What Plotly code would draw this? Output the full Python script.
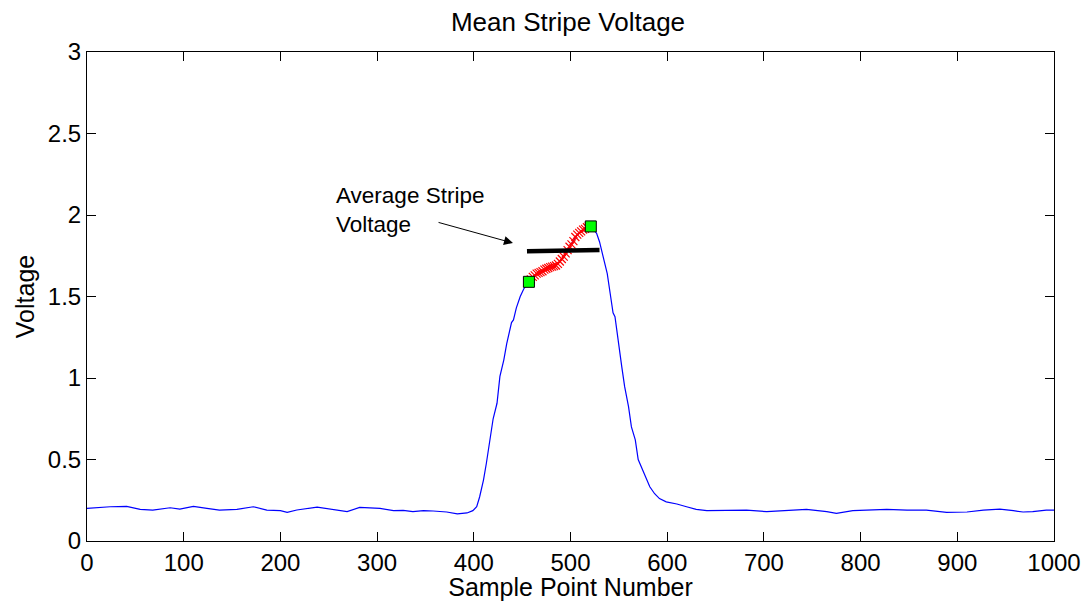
import plotly.graph_objects as go

# ---- data ----
sample_number = [0, 24, 41, 55, 68, 86, 96, 110, 124, 137, 155, 172, 186, 200, 207, 217,
                 238, 254, 269, 282, 303, 317, 327, 337, 348, 358, 372, 383, 393, 399,
                 403, 406, 410, 413, 417, 420, 424, 427, 431, 434, 439, 441, 444, 448, 452,
                 457, 459, 461, 463, 465, 467, 469, 471, 473, 475, 477, 479, 481, 483, 485,
                 487, 489, 491, 493, 495, 497, 499, 501, 503, 505, 507, 509, 511, 513, 515,
                 517, 519, 521, 524, 527, 530, 534, 538, 541, 544, 546, 549, 553, 556, 560,
                 563, 567, 570, 575, 579, 582, 587, 592, 599, 610, 620, 630, 641, 661, 682,
                 703, 723, 744, 765, 775, 792, 806, 827, 848, 868, 889, 910, 927, 944, 958,
                 968, 978, 992, 1000]
voltage = [0.200, 0.210, 0.212, 0.194, 0.190, 0.204, 0.196, 0.212, 0.200, 0.190, 0.194,
           0.210, 0.190, 0.186, 0.176, 0.190, 0.208, 0.194, 0.180, 0.206, 0.200, 0.186,
           0.188, 0.180, 0.186, 0.184, 0.178, 0.166, 0.172, 0.186, 0.210, 0.270, 0.374,
           0.477, 0.620, 0.750, 0.845, 1.010, 1.110, 1.210, 1.340, 1.356, 1.430, 1.500,
           1.550, 1.590, 1.605, 1.620, 1.630, 1.640, 1.645, 1.650, 1.655, 1.665, 1.670,
           1.675, 1.680, 1.683, 1.686, 1.690, 1.700, 1.715, 1.730, 1.745, 1.765, 1.785,
           1.805, 1.820, 1.840, 1.865, 1.880, 1.890, 1.900, 1.910, 1.915, 1.925, 1.930,
           1.930, 1.910, 1.888, 1.836, 1.744, 1.640, 1.520, 1.400, 1.376, 1.230, 1.070,
           0.947, 0.824, 0.700, 0.620, 0.500, 0.430, 0.374, 0.333, 0.290, 0.260, 0.240,
           0.227, 0.210, 0.194, 0.186, 0.186, 0.190, 0.180, 0.186, 0.194, 0.180, 0.170,
           0.186, 0.190, 0.194, 0.190, 0.190, 0.176, 0.178, 0.190, 0.196, 0.186, 0.178,
           0.180, 0.190, 0.190]

stripe_start, stripe_end = 457, 523
avg_x = [455, 530]
avg_y = [1.778, 1.785]
edge_x = [457, 521]
edge_y = [1.590, 1.930]

x_ticks = [0, 100, 200, 300, 400, 500, 600, 700, 800, 900, 1000]
y_ticks = [0, 0.5, 1, 1.5, 2, 2.5, 3]
y_tick_text = ["0", "0.5", "1", "1.5", "2", "2.5", "3"]

FONT = "Liberation Sans, Arial, sans-serif"

stripe_x = [s for s in sample_number if stripe_start <= s <= stripe_end]
stripe_y = [v for s, v in zip(sample_number, voltage) if stripe_start <= s <= stripe_end]

fig = go.Figure()
fig.add_trace(go.Scatter(x=sample_number, y=voltage, mode="lines",
                         line=dict(color="#0000ff", width=1.2), showlegend=False))
fig.add_trace(go.Scatter(x=stripe_x, y=stripe_y, mode="markers",
                         marker=dict(symbol="x-thin", size=8, color="red",
                                     line=dict(color="red", width=1.2)),
                         showlegend=False))
fig.add_trace(go.Scatter(x=avg_x, y=avg_y, mode="lines",
                         line=dict(color="black", width=4.5), showlegend=False))
fig.add_trace(go.Scatter(x=edge_x, y=edge_y, mode="markers",
                         marker=dict(symbol="square", size=11, color="#00ff00",
                                     line=dict(color="black", width=1)),
                         showlegend=False))

fig.add_annotation(x=255, y=2.03, xref="x", yref="y", text="Average Stripe<br>Voltage",
                   showarrow=False, xanchor="left", yanchor="middle", align="left",
                   font=dict(family=FONT, size=22.5, color="black"))
fig.add_annotation(x=440.5, y=1.828, xref="x", yref="y", ax=362, ay=1.957,
                   axref="x", ayref="y", text="", showarrow=True, arrowhead=2,
                   arrowsize=1.8, arrowwidth=1, arrowcolor="black")

axis_common = dict(showgrid=False, zeroline=False, showline=True, linecolor="black",
                   linewidth=1, mirror="ticks", ticks="inside", ticklen=9,
                   tickcolor="black", tickwidth=1, automargin=False,
                   tickfont=dict(family=FONT, size=24, color="black"))

fig.update_xaxes(range=[0, 1000], tickvals=x_ticks, ticktext=[str(t) for t in x_ticks],
                 title=dict(text="Sample Point Number", standoff=5,
                            font=dict(family=FONT, size=25, color="black")),
                 **axis_common)
fig.update_yaxes(range=[0, 3], tickvals=y_ticks, ticktext=y_tick_text,
                 title=dict(text="Voltage", standoff=6,
                            font=dict(family=FONT, size=25, color="black")),
                 **axis_common)

fig.update_layout(width=1085, height=601, plot_bgcolor="white", paper_bgcolor="white",
                  margin=dict(l=87, r=31, t=52, b=60, autoexpand=False),
                  title=dict(text="Mean Stripe Voltage", x=0.5235, xanchor="center",
                             y=0.963, yanchor="middle", automargin=False,
                             font=dict(family=FONT, size=26, color="black")))

# remove the browser's default 8px body margin so the figure fills the window exactly
fig.write_html("out.html", config={"displayModeBar": False},
               post_script="document.body.style.margin='0';document.body.style.overflow='hidden';")
